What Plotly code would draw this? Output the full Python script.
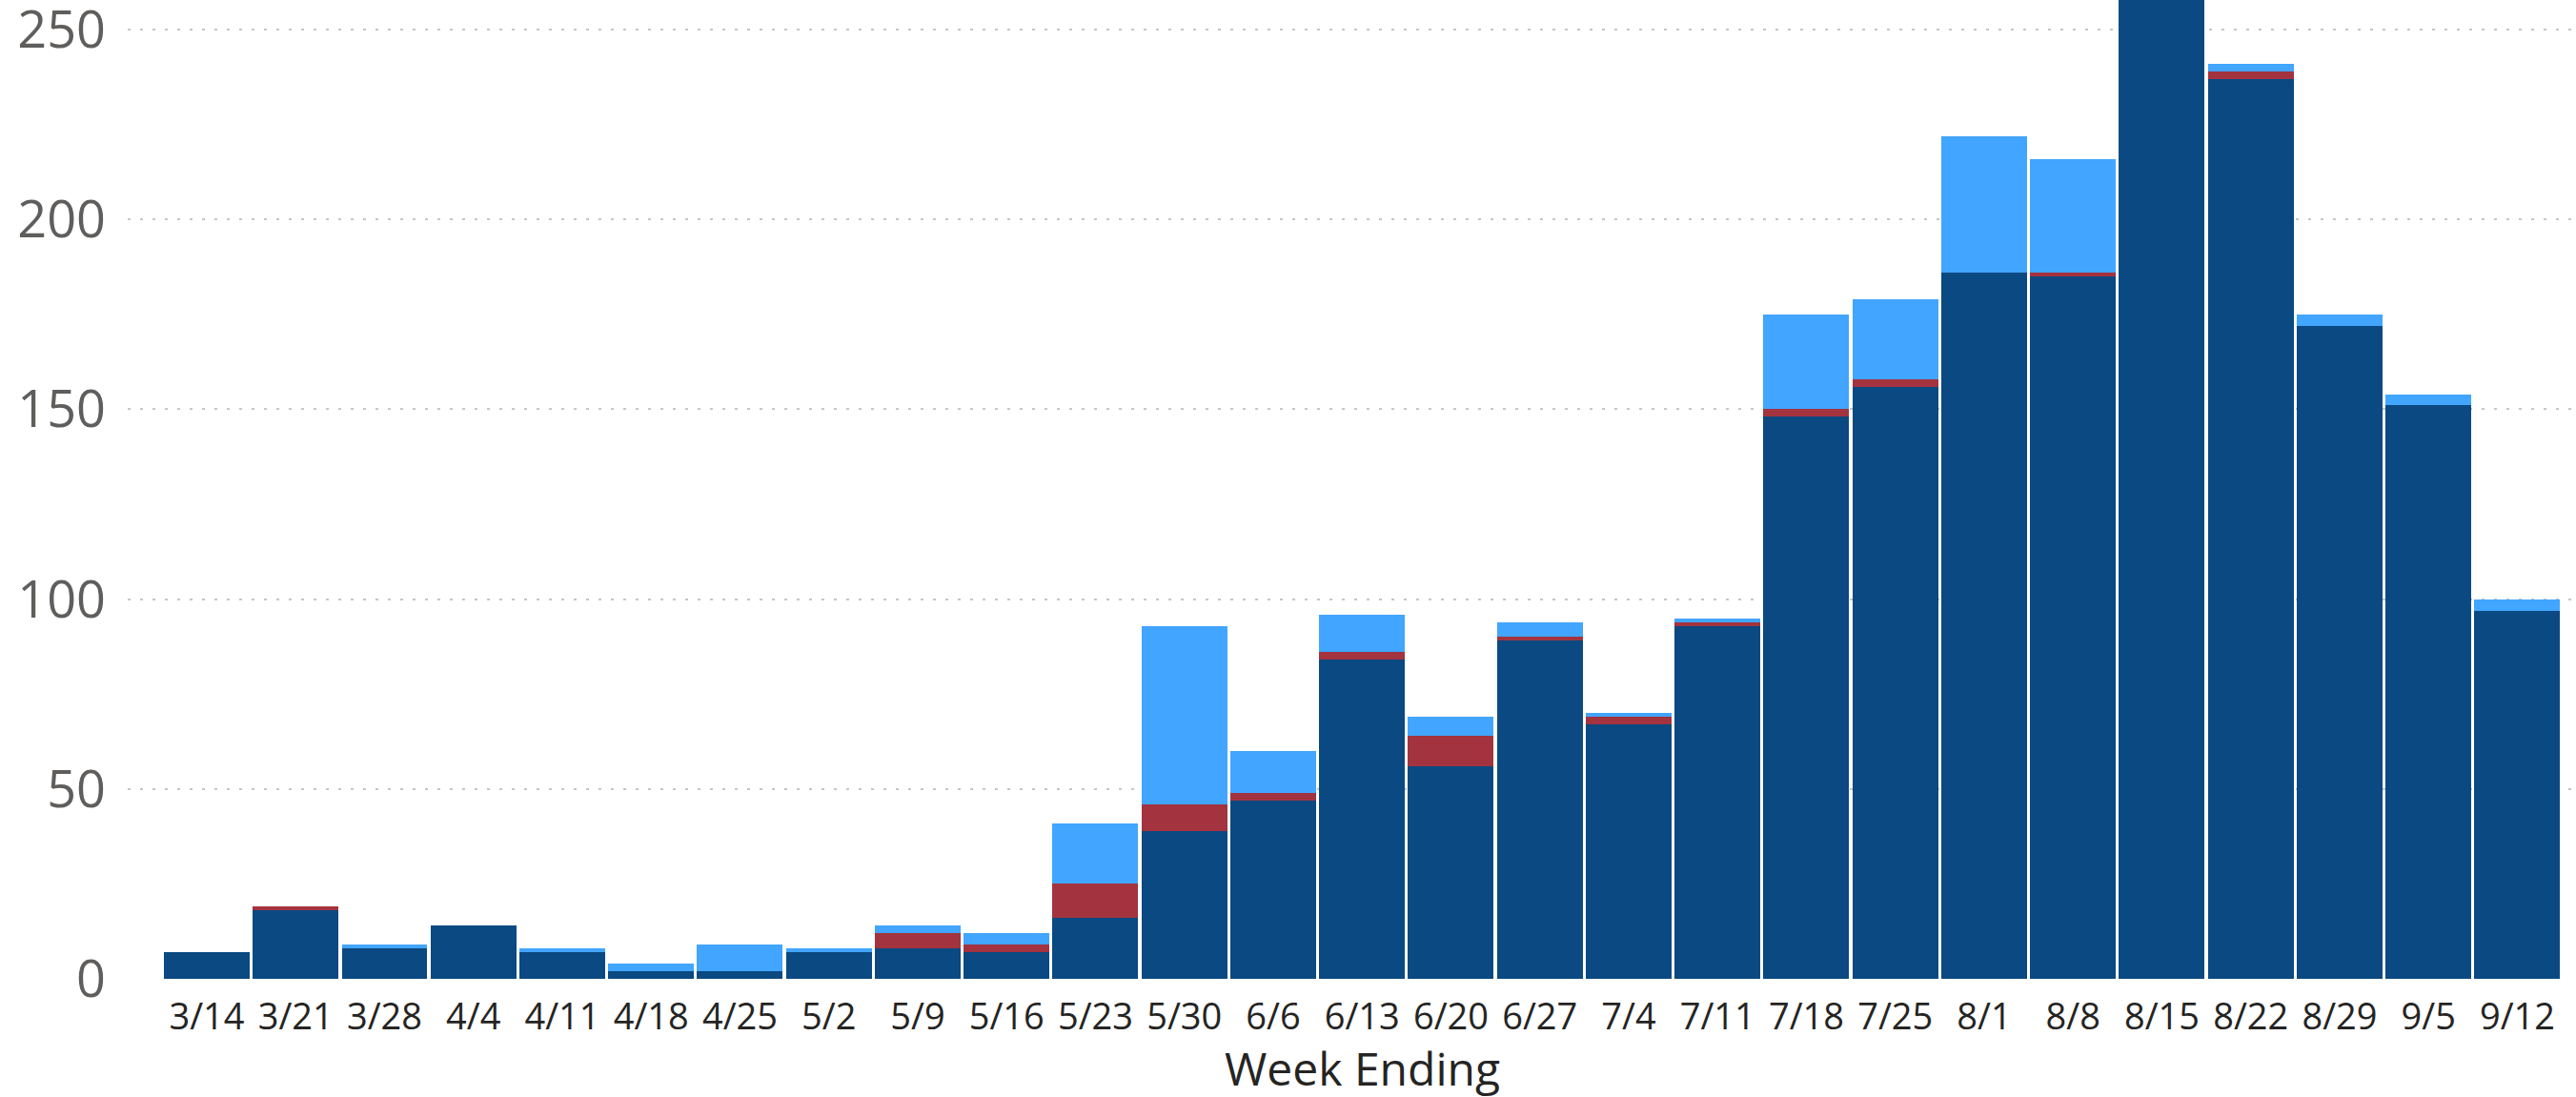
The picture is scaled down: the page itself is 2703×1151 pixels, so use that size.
import plotly.graph_objects as go

weeks = ["3/14", "3/21", "3/28", "4/4", "4/11", "4/18", "4/25", "5/2", "5/9", "5/16",
         "5/23", "5/30", "6/6", "6/13", "6/20", "6/27", "7/4", "7/11", "7/18", "7/25",
         "8/1", "8/8", "8/15", "8/22", "8/29", "9/5", "9/12"]

series_dark = [7, 18, 8, 14, 7, 2, 2, 7, 8, 7,
               16, 39, 47, 84, 56, 89, 67, 93, 148, 156,
               186, 185, 265, 237, 172, 151, 97]
series_red = [0, 1, 0, 0, 0, 0, 0, 0, 4, 2,
              9, 7, 2, 2, 8, 1, 2, 1, 2, 2,
              0, 1, 0, 2, 0, 0, 0]
series_light = [0, 0, 1, 0, 1, 2, 7, 1, 2, 3,
                16, 47, 11, 10, 5, 4, 1, 1, 25, 21,
                36, 30, 0, 2, 3, 3, 3]

y_ticks = [0, 50, 100, 150, 200, 250]

FONT = "Segoe UI, Open Sans, sans-serif"

fig = go.Figure()
fig.add_trace(go.Bar(x=weeks, y=series_dark, name="Series 1", marker_color="#0A4981",
                     marker_line_width=0))
fig.add_trace(go.Bar(x=weeks, y=series_red, name="Series 2", marker_color="#A3333F",
                     marker_line_width=0))
fig.add_trace(go.Bar(x=weeks, y=series_light, name="Series 3", marker_color="#42A5FF",
                     marker_line_width=0))

fig.update_layout(
    barmode="stack",
    bargap=0.035,
    width=2703,
    height=1151,
    margin=dict(l=134, r=0, t=0, b=124, pad=0),
    plot_bgcolor="white",
    paper_bgcolor="white",
    showlegend=False,
    font=dict(family=FONT),
    xaxis=dict(
        type="category",
        range=[-0.89, 26.66],
        automargin=False,
        showgrid=False,
        zeroline=False,
        showline=False,
        ticks="",
        tickfont=dict(family=FONT, size=38, color="#252423"),
        ticklabelstandoff=14,
    ),
    yaxis=dict(
        range=[0, 257.8],
        tickvals=y_ticks,
        automargin=False,
        showgrid=True,
        gridcolor="#C8C6C4",
        gridwidth=2,
        griddash="3px,10px",
        zeroline=False,
        showline=False,
        ticks="",
        ticklabeloverflow="allow",
        tickfont=dict(family=FONT, size=54, color="#605E5C"),
        ticklabelstandoff=22,
    ),
    annotations=[dict(
        text="Week Ending",
        x=13, xref="x",
        y=0, yref="paper",
        yshift=-93,
        yanchor="middle",
        showarrow=False,
        font=dict(family=FONT, size=48, color="#252423"),
    )],
)

fig.write_html("out.html", config={"displayModeBar": False},
               post_script="document.body.style.margin='0px';")
